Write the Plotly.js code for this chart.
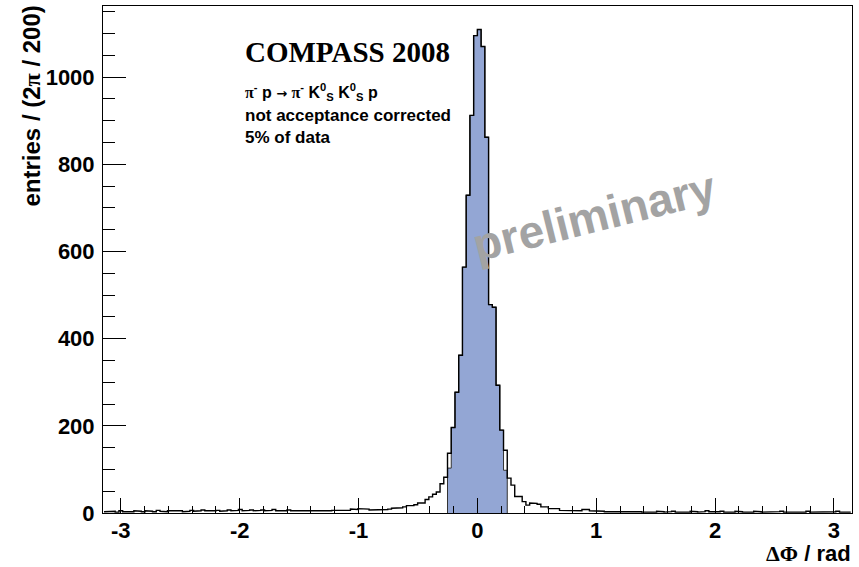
<!DOCTYPE html>
<html>
<head>
<meta charset="utf-8">
<script src="https://cdn.plot.ly/plotly-3.0.1.min.js"></script>
<style>
  html, body { margin: 0; padding: 0; background: #ffffff; }
  #chart { width: 859px; height: 567px; }
</style>
</head>
<body>
<div id="chart"></div>
<script>
// ---- data ----
const nBins = 200;
const phiMin = -Math.PI;
const phiMax = Math.PI;

// entries per bin (all events), bins from -pi to pi
const counts = [
  3,4,4,2,5,3,4,3,5,4,
  3,5,4,3,6,4,3,5,4,4,
  5,3,4,6,4,5,7,5,4,5,
  6,4,5,7,5,6,8,5,6,7,
  5,6,7,5,6,8,5,6,5,7,
  5,4,5,4,5,5,4,5,5,4,
  5,6,6,6,6,6,9,8,10,9,
  9,7,7,7,8,8,9,11,11,12,
  14,17,17,19,23,23,31,37,43,48,
  67,82,
  137,196,277,362,564,729,912,1095,1109,1070,862,478,472,293,190,144,
  80,64,38,38,26,18,23,22,20,14,14,10,
  10,10,6,6,6,5,5,5,8,8,5,4,5,
  4,3,4,3,4,3,3,4,3,4,3,2,3,
  3,2,4,3,2,3,4,2,3,3,
  2,4,3,2,3,5,3,2,3,4,
  2,3,2,4,3,2,3,2,4,3,
  2,3,2,2,3,4,2,3,2,3,
  3,2,4,2,3,2,3,2,2,3,
  4,2,3,2
];

// selected (filled) sub-histogram, starting at bin index selFirst
const selFirst = 92;
const selected = [103,196,277,362,564,729,912,1095,1109,1070,862,478,472,293,190,98];

const xTickVals = [-3, -2, -1, 0, 1, 2, 3];
const xTickText = ['-3', '-2', '-1', '0', '1', '2', '3'];
const yTickVals = [0, 200, 400, 600, 800, 1000];

// ---- build step outlines from bin contents ----
const w = (phiMax - phiMin) / nBins;
function stepPath(first, vals, closeToZero) {
  const xs = [], ys = [];
  if (closeToZero) { xs.push(phiMin + first * w); ys.push(0); }
  for (let k = 0; k < vals.length; k++) {
    const x0 = phiMin + (first + k) * w;
    xs.push(x0, x0 + w);
    ys.push(vals[k], vals[k]);
  }
  if (closeToZero) { xs.push(phiMin + (first + vals.length) * w); ys.push(0); }
  return { xs, ys };
}
const fillPath = stepPath(selFirst, selected, true);
const linePath = stepPath(0, counts, false);

const traces = [
  {
    type: 'scatter', mode: 'lines',
    x: fillPath.xs, y: fillPath.ys,
    fill: 'toself', fillcolor: '#93a6d4',
    line: { width: 1, color: '#333333' },
    hoverinfo: 'skip', showlegend: false
  },
  {
    type: 'scatter', mode: 'lines',
    x: linePath.xs, y: linePath.ys,
    line: { width: 1.4, color: '#000000' },
    hoverinfo: 'skip', showlegend: false
  }
];

const sans = 'Liberation Sans, Arial, Helvetica, sans-serif';
const serif = 'Liberation Serif, Times New Roman, serif';

const layout = {
  width: 859, height: 567,
  margin: { l: 103, r: 7, t: 6, b: 54 },
  paper_bgcolor: '#ffffff', plot_bgcolor: '#ffffff',
  font: { family: sans, color: '#000000' },
  showlegend: false,
  xaxis: {
    range: [-3.15, 3.152],
    showgrid: false, zeroline: false,
    showline: true, mirror: true, linecolor: '#000000', linewidth: 1,
    tickmode: 'array', tickvals: xTickVals, ticktext: xTickText,
    ticks: 'inside', ticklen: 15, tickwidth: 1, tickcolor: '#000000',
    minor: { tickmode: 'linear', tick0: 0, dtick: 0.2, ticks: 'inside', ticklen: 7.5, tickwidth: 1, tickcolor: '#000000' },
    tickfont: { family: sans, size: 22, weight: 'bold', color: '#000000' },
    ticklabelstandoff: -2
  },
  yaxis: {
    range: [0, 1163],
    showgrid: false, zeroline: false,
    showline: true, mirror: true, linecolor: '#000000', linewidth: 1,
    tickmode: 'array', tickvals: yTickVals,
    ticks: 'inside', ticklen: 23, tickwidth: 1, tickcolor: '#000000',
    minor: { tickmode: 'linear', tick0: 0, dtick: 50, ticks: 'inside', ticklen: 12, tickwidth: 1, tickcolor: '#000000' },
    tickfont: { family: sans, size: 22, weight: 'bold', color: '#000000' },
    ticklabelstandoff: 3
  },
  annotations: [
    {
      xref: 'paper', yref: 'paper', x: 0.1869, y: 0.909, xanchor: 'left', yanchor: 'middle',
      text: 'COMPASS 2008', showarrow: false,
      font: { family: serif, size: 29, weight: 'bold', color: '#000000' }
    },
    {
      xref: 'paper', yref: 'paper', x: 0.1869, y: 0.830, xanchor: 'left', yanchor: 'middle',
      text: '<span style="font-family:Liberation Serif">π</span><sup>-</sup> p <span style="font-family:DejaVu Sans;font-size:13px">→</span> <span style="font-family:Liberation Serif">π</span><sup>-</sup> K<sup>0</sup><sub>S</sub> K<sup>0</sup><sub>S</sub> p',
      showarrow: false,
      font: { family: sans, size: 16, weight: 'bold', color: '#000000' }
    },
    {
      xref: 'paper', yref: 'paper', x: 0.1869, y: 0.785, xanchor: 'left', yanchor: 'middle',
      text: 'not acceptance corrected', showarrow: false,
      font: { family: sans, size: 17, weight: 'bold', color: '#000000' }
    },
    {
      xref: 'paper', yref: 'paper', x: 0.1869, y: 0.740, xanchor: 'left', yanchor: 'middle',
      text: '5% of data', showarrow: false,
      font: { family: sans, size: 17, weight: 'bold', color: '#000000' }
    },
    {
      xref: 'paper', yref: 'paper', x: 0.656, y: 0.586, xanchor: 'center', yanchor: 'middle',
      text: 'preliminary', showarrow: false, textangle: -14,
      font: { family: sans, size: 46, weight: 'bold', color: '#a3a3a3' }
    },
    {
      xref: 'paper', yref: 'paper', x: -0.0961, y: 1.004, xanchor: 'center', yanchor: 'top',
      text: 'entries / (2<span style="font-family:Liberation Serif">π</span> / 200)', showarrow: false, textangle: -90,
      font: { family: sans, size: 24, weight: 'bold', color: '#000000' }
    },
    {
      xref: 'paper', yref: 'paper', x: 1.0, y: -0.1065, xanchor: 'right', yanchor: 'bottom', borderpad: 0,
      text: '<span style="font-family:Liberation Serif">ΔΦ</span> / rad', showarrow: false,
      font: { family: sans, size: 22, weight: 'bold', color: '#000000' }
    }
  ]
};

Plotly.newPlot('chart', traces, layout, { displayModeBar: false, staticPlot: true });
</script>
</body>
</html>
